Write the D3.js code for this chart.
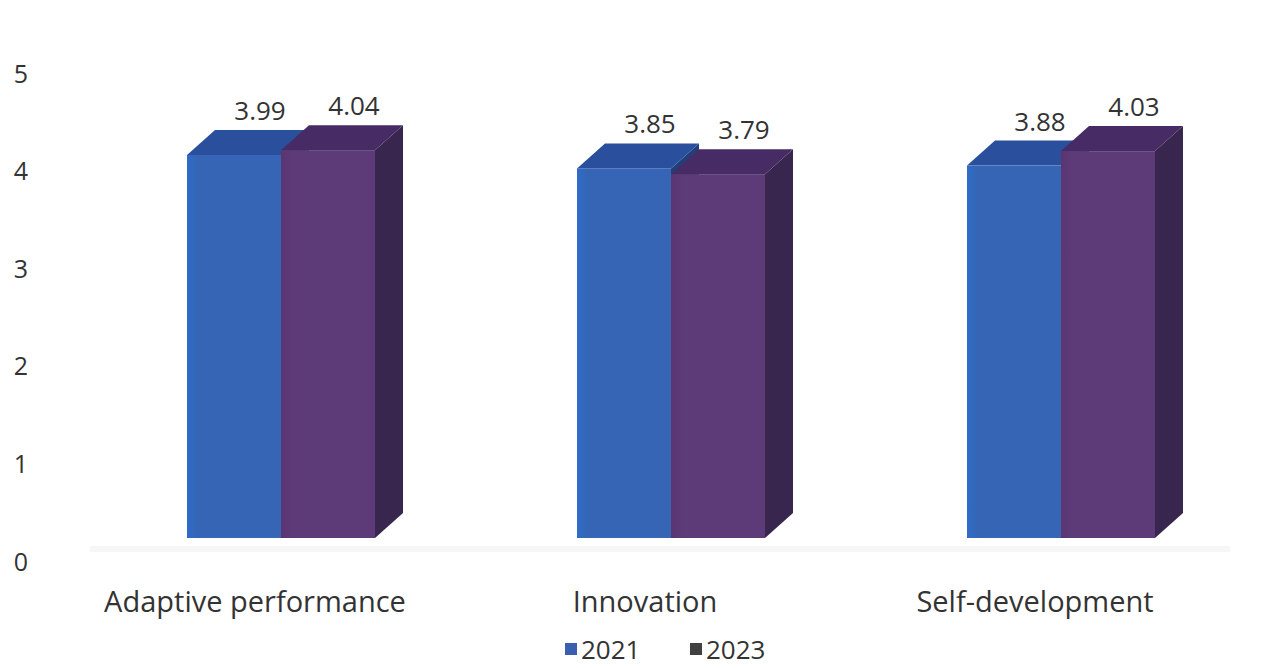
<!DOCTYPE html>
<html>
<head>
<meta charset="utf-8">
<script src="https://cdn.jsdelivr.net/npm/d3@7"></script>
<style>
  html, body { margin: 0; padding: 0; background: #ffffff; }
  svg { display: block; }
  text { font-family: "Open Sans", "Noto Sans", sans-serif; fill: #333333; }
</style>
</head>
<body>
<svg id="chart" width="1274" height="668"></svg>
<script>
// Data
const categories = ["Adaptive performance", "Innovation", "Self-development"];
const seriesNames = ["2021", "2023"];
const values2021 = [3.99, 3.85, 3.88];
const values2023 = [4.04, 3.79, 4.03];
const yTicks = [0, 1, 2, 3, 4, 5];

const seriesValues = [values2021, values2023];
const palette = {
  "2021": { front: "#3565b4", frontEdge: "#2f6cc9", top: "#2a4f9c", side: "#223f7c", legend: "#3b5fb0" },
  "2023": { front: "#5d3a78", frontEdge: "#5a3572", top: "#472b64", side: "#38264e", legend: "#404040" }
};

const svg = d3.select("#chart");

// 3D depth offset of the columns
const depthX = 28, depthY = -25;

// Scales
const xCenter = d3.scalePoint().domain(categories).range([281, 1061]);
const xSeries = d3.scaleBand().domain(seriesNames).range([-94, 94]).padding(0);
const yFront = d3.scaleLinear().domain([0, 5]).range([538, 58]);
const yAxisScale = d3.scaleLinear().domain([0, 5]).range([562, 74]);

// Gradients for the front faces
const defs = svg.append("defs");
seriesNames.forEach(s => {
  const g = defs.append("linearGradient").attr("id", "grad" + s)
    .attr("x1", "0%").attr("x2", "100%").attr("y1", "0%").attr("y2", "0%");
  g.append("stop").attr("offset", "0%").attr("stop-color", palette[s].frontEdge);
  g.append("stop").attr("offset", "12%").attr("stop-color", palette[s].front);
  g.append("stop").attr("offset", "100%").attr("stop-color", palette[s].front);
});

// Faint floor
svg.append("rect")
  .attr("x", 90).attr("y", 546).attr("width", 1140).attr("height", 6)
  .attr("fill", "#f6f6f6");

// Y axis labels
const yAxis = d3.axisLeft(yAxisScale).tickValues(yTicks).tickSize(0).tickPadding(0)
  .tickFormat(d3.format("d"));
const gy = svg.append("g").attr("transform", "translate(28,0)").call(yAxis);
gy.select(".domain").remove();
gy.selectAll("text")
  .style("font-family", "\"Open Sans\", sans-serif")
  .style("font-size", "25px")
  .attr("fill", "#333333")
  .attr("text-anchor", "end");

// Columns
const bars = [];
categories.forEach((c, i) => {
  seriesNames.forEach((s, j) => {
    bars.push({ cat: c, series: s, value: seriesValues[j][i] });
  });
});

const barG = svg.append("g");
bars.forEach(d => {
  const x0 = xCenter(d.cat) + xSeries(d.series);
  const x1 = x0 + xSeries.bandwidth();
  const yb = yFront(0);
  const yt = yFront(d.value);
  const col = palette[d.series];
  const g = barG.append("g");
  // right side face
  g.append("path")
    .attr("d", `M${x1},${yt} L${x1 + depthX},${yt + depthY} L${x1 + depthX},${yb + depthY} L${x1},${yb} Z`)
    .attr("fill", col.side);
  // top face
  g.append("path")
    .attr("d", `M${x0},${yt} L${x0 + depthX},${yt + depthY} L${x1 + depthX},${yt + depthY} L${x1},${yt} Z`)
    .attr("fill", col.top);
  // front face
  g.append("rect")
    .attr("x", x0).attr("y", yt)
    .attr("width", x1 - x0).attr("height", yb - yt)
    .attr("fill", `url(#grad${d.series})`);
});

// Value labels
svg.append("g").selectAll("text")
  .data(bars)
  .join("text")
  .attr("x", d => xCenter(d.cat) + xSeries(d.series) + xSeries.bandwidth() / 2 + 26)
  .attr("y", d => yFront(d.value) + depthY - 10)
  .attr("text-anchor", "middle")
  .style("font-size", "26px")
  .text(d => d.value.toFixed(2));

// Category labels
svg.append("g").selectAll("text")
  .data(categories)
  .join("text")
  .attr("x", d => xCenter(d) - 26)
  .attr("y", 612)
  .attr("text-anchor", "middle")
  .style("font-size", "29px")
  .text(d => d);

// Legend
const legend = svg.append("g").attr("transform", "translate(565,0)");
const legendItems = legend.selectAll("g")
  .data(seriesNames)
  .join("g")
  .attr("transform", (d, i) => `translate(${i * 125},0)`);
legendItems.append("rect")
  .attr("x", 0).attr("y", 643).attr("width", 12).attr("height", 12)
  .attr("fill", d => palette[d].legend);
legendItems.append("text")
  .attr("x", 16).attr("y", 659)
  .style("font-size", "26px")
  .text(d => d);
</script>
</body>
</html>
